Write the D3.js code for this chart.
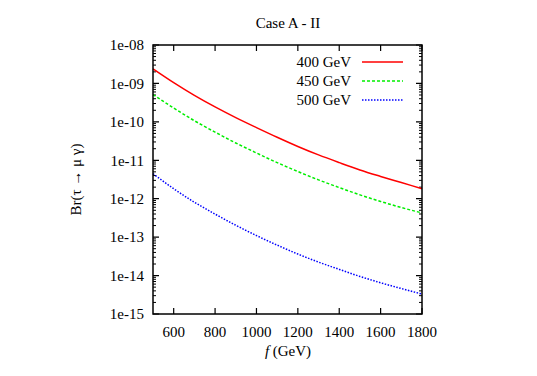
<!DOCTYPE html>
<html>
<head>
<meta charset="utf-8">
<script src="https://cdn.jsdelivr.net/npm/d3@7"></script>
<style>
  body { margin: 0; background: #fff; }
  text { font-family: "Liberation Serif", "DejaVu Serif", serif; fill: #000; }
</style>
</head>
<body>
<div class="graph"></div>
<script>
// data
const fValues = [500, 600, 700, 800, 900, 1000, 1100, 1200, 1300, 1400, 1500, 1600, 1700, 1800]
const br400 = [2.40e-9, 1.05e-9, 4.9e-10, 2.45e-10, 1.29e-10, 7.1e-11, 3.98e-11, 2.29e-11, 1.38e-11, 8.7e-12, 5.6e-12, 3.8e-12, 2.63e-12, 1.82e-12]
const br450 = [5.13e-10, 2.29e-10, 1.07e-10, 5.4e-11, 2.82e-11, 1.55e-11, 8.7e-12, 5.1e-12, 3.09e-12, 1.95e-12, 1.26e-12, 8.5e-13, 5.9e-13, 4.27e-13]
const br500 = [4.47e-12, 1.82e-12, 8.1e-13, 3.98e-13, 2.04e-13, 1.10e-13, 6.2e-14, 3.63e-14, 2.24e-14, 1.45e-14, 9.5e-15, 6.5e-15, 4.6e-15, 3.3e-15]
const seriesNames = ["400 GeV", "450 GeV", "500 GeV"]
const xTicks = [600, 800, 1000, 1200, 1400, 1600, 1800]
const yTicks = [1e-8, 1e-9, 1e-10, 1e-11, 1e-12, 1e-13, 1e-14, 1e-15]
const yTickLabels = ["1e-08", "1e-09", "1e-10", "1e-11", "1e-12", "1e-13", "1e-14", "1e-15"]

const series = [
  {name: seriesNames[0], values: br400, color: "#ff0000", dash: null},
  {name: seriesNames[1], values: br450, color: "#00ee00", dash: "3,2"},
  {name: seriesNames[2], values: br500, color: "#0000ff", dash: "1.5,1.5"}
]

const W = 537, H = 376
const margin = {top: 45, right: 115, bottom: 62, left: 153}
const width = W - margin.left - margin.right
const height = H - margin.top - margin.bottom

const svg = d3.select(".graph")
  .append("svg")
  .attr("width", W)
  .attr("height", H)

const g = svg.append("g")
  .attr("transform", `translate(${margin.left},${margin.top})`)

const x = d3.scaleLinear().domain([500, 1800]).range([0, width])
const y = d3.scaleLog().domain([1e-15, 1e-8]).range([height, 0])

// minor log ticks
const minor = []
for (let e = -15; e < -8; e++) {
  for (let m = 2; m <= 9; m++) minor.push(m * Math.pow(10, e))
}

// y ticks, inward on both sides
g.selectAll(".ymaj").data(yTicks).enter().append("path")
  .attr("d", d => `M0,${y(d)}h6M${width},${y(d)}h-6`)
  .attr("stroke", "#000").attr("stroke-width", 1.2)
g.selectAll(".ymin").data(minor).enter().append("path")
  .attr("d", d => `M0,${y(d)}h3M${width},${y(d)}h-3`)
  .attr("stroke", "#000").attr("stroke-width", 1)

// x ticks
g.selectAll(".xmaj").data(xTicks).enter().append("path")
  .attr("d", d => `M${x(d)},${height}v-6M${x(d)},0v6`)
  .attr("stroke", "#000").attr("stroke-width", 1.2)

g.selectAll(".ylab").data(yTicks).enter().append("text")
  .attr("x", -9)
  .attr("y", d => y(d))
  .attr("dy", "0.35em")
  .attr("text-anchor", "end")
  .attr("font-size", 15)
  .text((d, i) => yTickLabels[i])

g.selectAll(".xlab").data(xTicks).enter().append("text")
  .attr("x", d => x(d))
  .attr("y", height + 23)
  .attr("text-anchor", "middle")
  .attr("font-size", 15)
  .text(d => d)

// curves
const line = d3.line()
  .x((d, i) => x(fValues[i]))
  .y(d => y(d))
  .curve(d3.curveMonotoneX)

series.forEach(s => {
  g.append("path")
    .datum(s.values)
    .attr("fill", "none")
    .attr("stroke", s.color)
    .attr("stroke-width", 1.5)
    .attr("stroke-dasharray", s.dash)
    .attr("d", line)
})

// legend
series.forEach((s, i) => {
  const ly = 17 + i * 19
  g.append("text")
    .attr("x", 198)
    .attr("y", ly)
    .attr("dy", "0.35em")
    .attr("text-anchor", "end")
    .attr("font-size", 15)
    .text(s.name)
  g.append("line")
    .attr("x1", 209).attr("x2", 250)
    .attr("y1", ly).attr("y2", ly)
    .attr("stroke", s.color)
    .attr("stroke-width", 1.5)
    .attr("stroke-dasharray", s.dash)
})

// frame
g.append("rect")
  .attr("width", width).attr("height", height)
  .attr("fill", "none").attr("stroke", "#000").attr("stroke-width", 1.5)

// titles
svg.append("text")
  .attr("x", 288).attr("y", 28)
  .attr("text-anchor", "middle")
  .attr("font-size", 15)
  .text("Case A - II")

const xt = svg.append("text")
  .attr("x", 288).attr("y", 356)
  .attr("text-anchor", "middle")
  .attr("font-size", 15)
xt.append("tspan").attr("font-style", "italic").text("f")
xt.append("tspan").text("  (GeV)")

svg.append("text")
  .attr("transform", `translate(81,${margin.top + height / 2}) rotate(-90)`)
  .attr("text-anchor", "middle")
  .attr("font-size", 15)
  .text("Br(τ → μ γ)")
</script>
</body>
</html>
